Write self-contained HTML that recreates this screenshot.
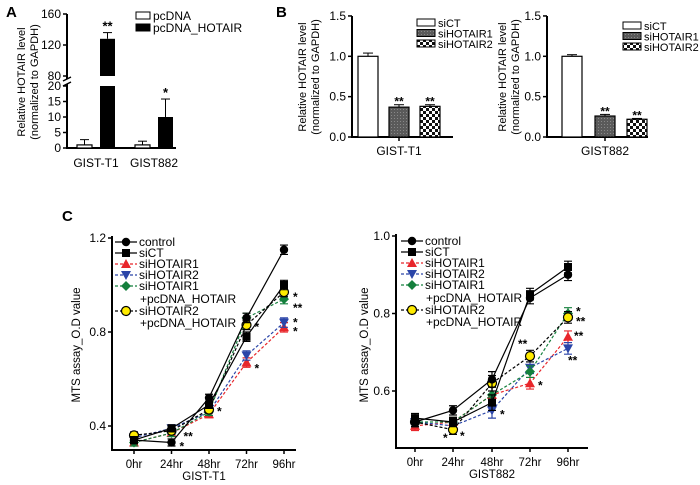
<!DOCTYPE html>
<html><head><meta charset="utf-8"><style>
html,body{margin:0;padding:0;background:#fff;}
svg{display:block;font-family:"Liberation Sans",Arial,sans-serif;}
</style></head><body>
<svg id="fig" width="700" height="485" viewBox="0 0 700 485" xmlns="http://www.w3.org/2000/svg">
<defs>
<pattern id="dots" width="3" height="3" patternUnits="userSpaceOnUse"><rect width="3" height="3" fill="#5a5a5a"/><rect x="1" y="1" width="1" height="1" fill="#888"/></pattern>
<pattern id="check" width="6" height="6" patternUnits="userSpaceOnUse"><rect width="6" height="6" fill="#fff"/><rect width="3" height="3" fill="#111"/><rect x="3" y="3" width="3" height="3" fill="#111"/></pattern>
</defs>
<text x="6" y="17" font-size="15" font-weight="bold">A</text>
<text x="276" y="17" font-size="15" font-weight="bold">B</text>
<text x="62" y="221" font-size="15" font-weight="bold">C</text>
<g id="gA"></g>
<g id="gB1"></g>
<g id="gB2"></g>
<g id="gC1"></g>
<g id="gC2"></g>
</svg>
<script>
// Panel A data
const aGroups = ["GIST-T1","GIST882"];
const aPcDNA = [1, 1];
const aPcDNAErr = [1.7, 1.2];
const aHotair = [128, 10];
const aHotairErr = [8, 5.8];
const aStars = ["**","*"];
const aTicksLow = [0,5,10,15,20];
const aTicksHigh = [80,120,160];
// Panel B data
const bSeries = ["siCT","siHOTAIR1","siHOTAIR2"];
const bT1 = [1.0, 0.37, 0.38];
const bT1Err = [0.04, 0.03, 0.02];
const b882 = [1.0, 0.26, 0.22];
const b882Err = [0.02, 0.02, 0.01];
const bStars = ["", "**", "**"];
const bTicks = [0.0, 0.5, 1.0, 1.5];
// Panel C data
const cTimes = ["0hr","24hr","48hr","72hr","96hr"];
const cNames = ["control","siCT","siHOTAIR1","siHOTAIR2","siHOTAIR1","siHOTAIR2"];
const cT1 = [
 [0.34,0.33,0.52,0.86,1.15],
 [0.34,0.39,0.49,0.78,1.00],
 [0.33,0.37,0.45,0.67,0.82],
 [0.35,0.39,0.46,0.70,0.84],
 [0.33,0.37,0.46,0.86,0.94],
 [0.36,0.38,0.47,0.83,0.97]];
const cT1Err = [0.015,0.015,0.015,0.02,0.02];
const c882 = [
 [0.52,0.55,0.63,0.84,0.90],
 [0.53,0.52,0.57,0.85,0.92],
 [0.51,0.52,0.59,0.62,0.74],
 [0.52,0.51,0.55,0.66,0.71],
 [0.52,0.52,0.59,0.65,0.80],
 [0.52,0.50,0.62,0.69,0.79]];
const c882Err = [0.012,0.012,0.02,0.015,0.015];
const cT1Ticks = [0.4,0.8,1.2];
const c882Ticks = [0.6,0.8,1.0];

const NS="http://www.w3.org/2000/svg";
function mk(parent,tag,attrs,text){const e=document.createElementNS(NS,tag);for(const k in attrs)e.setAttribute(k,attrs[k]);if(text!==undefined)e.textContent=text;parent.appendChild(e);return e;}

// ---- Panel A ----
(function(){
 const g=document.getElementById('gA');
 const x0=67, xEnd=176, y0=148;
 const yLow=v=>y0-v*3.1;
 const yHigh=v=>76-(v-80)*0.775;
 const yv=v=>v<=20?yLow(v):yHigh(Math.max(v,80));
 let e=mk(g,'path',{d:`M${x0} 14 V79 M${x0} 84 V${y0} H${xEnd}`,stroke:'#000','stroke-width':2,fill:'none'});
 
 mk(g,'path',{d:`M${x0-4} 81 L${x0+4} 77 M${x0-4} 86 L${x0+4} 82`,stroke:'#000','stroke-width':1.5});
 aTicksLow.forEach(t=>{mk(g,'line',{x1:x0-4,x2:x0,y1:yLow(t),y2:yLow(t),stroke:'#000','stroke-width':1.5});
  e=mk(g,'text',{x:x0-6,y:yLow(t)+4,'font-size':12,'text-anchor':'end'},t);});
 aTicksHigh.forEach(t=>{mk(g,'line',{x1:x0-4,x2:x0,y1:yHigh(t),y2:yHigh(t),stroke:'#000','stroke-width':1.5});
  e=mk(g,'text',{x:x0-6,y:yHigh(t)+4,'font-size':12,'text-anchor':'end'},t);});
 e=mk(g,'text',{transform:'translate(25,82) rotate(-90)','font-size':11,'text-anchor':'middle'},'Relative HOTAIR level');
 e=mk(g,'text',{transform:'translate(38,82) rotate(-90)','font-size':11,'text-anchor':'middle'},'(normalized to GAPDH)');
 const starts=[77,135];
 aGroups.forEach((gname,i)=>{
  const xs=starts[i];
  const h1=aPcDNA[i], e1=aPcDNAErr[i];
  mk(g,'line',{x1:xs+7.5,x2:xs+7.5,y1:yv(h1),y2:yv(h1+e1),stroke:'#000','stroke-width':1});
  mk(g,'line',{x1:xs+3,x2:xs+12,y1:yv(h1+e1),y2:yv(h1+e1),stroke:'#000','stroke-width':1});
  e=mk(g,'rect',{x:xs,y:yv(h1),width:15,height:y0-yv(h1),fill:'#fff',stroke:'#000','stroke-width':1.2});
  
  const xh=xs+23, h2=aHotair[i], e2=aHotairErr[i];
  mk(g,'line',{x1:xh+7.5,x2:xh+7.5,y1:yv(h2),y2:yv(h2+e2),stroke:'#000','stroke-width':1});
  mk(g,'line',{x1:xh+3,x2:xh+12,y1:yv(h2+e2),y2:yv(h2+e2),stroke:'#000','stroke-width':1});
  if(h2>20){
   e=mk(g,'rect',{x:xh,y:yLow(20),width:15,height:y0-yLow(20),fill:'#000'});
   
   mk(g,'rect',{x:xh,y:yHigh(h2),width:15,height:yHigh(80)-yHigh(h2),fill:'#000'});
  } else {
   e=mk(g,'rect',{x:xh,y:yv(h2),width:15,height:y0-yv(h2),fill:'#000'});
   
  }
  e=mk(g,'text',{x:xh+7.5,y:yv(h2+e2)-2,'font-size':13,'font-weight':'bold','text-anchor':'middle'},aStars[i]);
  e=mk(g,'text',{x:xs+19,y:167,'font-size':12,'text-anchor':'middle'},gname);
 });
 e=mk(g,'rect',{x:136,y:12,width:14,height:7,fill:'#fff',stroke:'#000'});
 e=mk(g,'text',{x:153,y:20,'font-size':12},'pcDNA');
 e=mk(g,'rect',{x:136,y:24,width:14,height:7,fill:'#000',stroke:'#000'});
 e=mk(g,'text',{x:153,y:32,'font-size':12},'pcDNA_HOTAIR');
})();

// ---- Panel B ----
function drawB(id,ax,vals,errs,label,barX,legX,legY,titleX){
 const g=document.getElementById(id);
 const y0=137, k=80.7, xEnd=ax+101;
 const y=v=>y0-v*k;
 let e=mk(g,'path',{d:`M${ax} 16 V${y0} H${xEnd}`,stroke:'#000','stroke-width':2,fill:'none'});
 
 bTicks.forEach(t=>{mk(g,'line',{x1:ax-4,x2:ax,y1:y(t),y2:y(t),stroke:'#000','stroke-width':1.5});
  e=mk(g,'text',{x:ax-6,y:y(t)+4,'font-size':12,'text-anchor':'end'},t.toFixed(1));});
 mk(g,'line',{x1:barX[1]+10,x2:barX[1]+10,y1:y0,y2:y0+4,stroke:'#000','stroke-width':1.5});
 e=mk(g,'text',{transform:`translate(${titleX},77) rotate(-90)`,'font-size':11,'text-anchor':'middle'},'Relative HOTAIR level');
 e=mk(g,'text',{transform:`translate(${titleX+13},77) rotate(-90)`,'font-size':11,'text-anchor':'middle'},'(normalized to GAPDH)');
 const fills=['#fff','url(#dots)','url(#check)'];
 vals.forEach((v,i)=>{
  const xs=barX[i], top=y(v+errs[i]);
  mk(g,'line',{x1:xs+10,x2:xs+10,y1:y(v),y2:top,stroke:'#000'});
  mk(g,'line',{x1:xs+5,x2:xs+15,y1:top,y2:top,stroke:'#000'});
  e=mk(g,'rect',{x:xs,y:y(v),width:20,height:y0-y(v),fill:fills[i],stroke:'#000','stroke-width':1.2});
  
  if(bStars[i]){e=mk(g,'text',{x:xs+10,y:top+1,'font-size':12,'font-weight':'bold','text-anchor':'middle'},bStars[i]);}
 });
 e=mk(g,'text',{x:barX[1]+10,y:155,'font-size':12,'text-anchor':'middle'},label);
 bSeries.forEach((s,i)=>{
  e=mk(g,'rect',{x:legX,y:legY+i*10.5,width:18,height:7,fill:fills[i],stroke:'#000'});
  e=mk(g,'text',{x:legX+21,y:legY+i*10.5+8,'font-size':11},s);
 });
}
drawB('gB1',352,bT1,bT1Err,'GIST-T1',[358,389,420],417,19,306);
drawB('gB2',547,b882,b882Err,'GIST882',[562,595,627],623,22,506);

// ---- Panel C ----
const cColors=['#000','#000','#e8262b','#2b45a8','#15803d','#000'];
const cDash=[null,null,'3,2','3,2','3,2','3,2'];
function marker(g,type,x,y){
 let e;
 if(type===0) e=mk(g,'circle',{cx:x,cy:y,r:4.2,fill:'#000'});
 else if(type===1) e=mk(g,'rect',{x:x-4,y:y-4,width:8,height:8,fill:'#000'});
 else if(type===2) e=mk(g,'path',{d:`M${x} ${y-5} L${x+5} ${y+4} L${x-5} ${y+4}Z`,fill:'#e8262b'});
 else if(type===3) e=mk(g,'path',{d:`M${x} ${y+5} L${x+5} ${y-4} L${x-5} ${y-4}Z`,fill:'#2b45a8'});
 else if(type===4) e=mk(g,'path',{d:`M${x} ${y-5} L${x+5} ${y} L${x} ${y+5} L${x-5} ${y}Z`,fill:'#15803d'});
 else e=mk(g,'circle',{cx:x,cy:y,r:4.5,fill:'#ffeb00',stroke:'#000','stroke-width':1.2});
 return e;
}
function drawC(id,ax,yTop,yBot,vTop,vPerPx,ticks,xs,xEnd,data,errs,xlabel,legX,legY,titleX,titleY,stars){
 const g=document.getElementById(id);
 const y=v=>yTop+(vTop-v)/vPerPx;
 let e=mk(g,'path',{d:`M${ax} ${yTop-2} V${yBot} H${xEnd}`,stroke:'#000','stroke-width':2,fill:'none'});
 
 ticks.forEach(t=>{mk(g,'line',{x1:ax-4,x2:ax,y1:y(t),y2:y(t),stroke:'#000','stroke-width':1.5});
  e=mk(g,'text',{x:ax-6,y:y(t)+4,'font-size':12,'text-anchor':'end'},t.toFixed(1));});
 cTimes.forEach((t,i)=>{mk(g,'line',{x1:xs[i],x2:xs[i],y1:yBot,y2:yBot+4,stroke:'#000','stroke-width':1.5});
  e=mk(g,'text',{x:xs[i],y:yBot+18,'font-size':11.5,'text-anchor':'middle'},t);});
 e=mk(g,'text',{x:(ax+xEnd)/2,y:yBot+30,'font-size':11.5,'text-anchor':'middle'},xlabel);
 e=mk(g,'text',{transform:`translate(${titleX},${titleY}) rotate(-90)`,'font-size':11.5,'text-anchor':'middle'},'MTS assay_O.D value');
 const order=[2,3,4,5,1,0];
 order.forEach(s=>{
  const pts=data[s].map((v,i)=>`${xs[i]},${y(v)}`).join(' ');
  const a={points:pts,fill:'none',stroke:cColors[s],'stroke-width':1.2};
  if(cDash[s])a['stroke-dasharray']=cDash[s];
  e=mk(g,'polyline',a);
  data[s].forEach((v,i)=>{
   const ec=s===5?'#000':cColors[s], er=errs[i];
   mk(g,'path',{d:`M${xs[i]} ${y(v+er)} V${y(v-er)} M${xs[i]-4} ${y(v+er)} H${xs[i]+4} M${xs[i]-4} ${y(v-er)} H${xs[i]+4}`,stroke:ec,'stroke-width':1.2,fill:'none'});
   e=marker(g,s,xs[i],y(v));
  });
 });
 stars.forEach(st=>{e=mk(g,'text',{x:xs[st[1]]+st[3],y:y(data[st[0]][st[1]])+st[4],'font-size':12,'font-weight':'bold'},st[2]);});
 const rows=[0,1,2,3,4,-1,5,-1];
 rows.forEach((s,r)=>{
  const ly=legY+[0,11,22,33,44,57,69,81][r];
  if(s<0){e=mk(g,'text',{x:legX+25,y:ly+4,'font-size':12},'+pcDNA_HOTAIR');return;}
  const a={x1:legX,x2:legX+22,y1:ly,y2:ly,stroke:cColors[s],'stroke-width':1.2};
  if(cDash[s])a['stroke-dasharray']=cDash[s];
  mk(g,'line',a);
  marker(g,s,legX+11,ly);
  e=mk(g,'text',{x:legX+24,y:ly+4,'font-size':12},cNames[s]);
 });
}
drawC('gC1',112,238,450,1.2,0.4/94,cT1Ticks,[134,171.5,209,246.5,284],296,cT1,cT1Err,'GIST-T1',115,242,80,345,
 [[0,1,'*',8,8],[1,1,'**',12,12],[5,2,'*',8,6],[5,3,'*',8,6],[2,3,'*',8,10],[4,4,'*',9,2],[4,4,'**',9,13],[3,4,'*',9,4],[2,4,'*',9,8]]);
drawC('gC2',396,236,448,1.0,0.2/77.5,c882Ticks,[415,453,492,530,568],588,c882,c882Err,'GIST882',401,241,368,345,
 [[5,1,'*',-10,12],[5,1,'*',7,10],[3,2,'*',8,8],[2,3,'*',8,6],[5,3,'**',-12,-8],[4,4,'*',8,2],[5,4,'**',8,8],[2,4,'**',6,3],[3,4,'**',0,16]]);
</script>
</body></html>
